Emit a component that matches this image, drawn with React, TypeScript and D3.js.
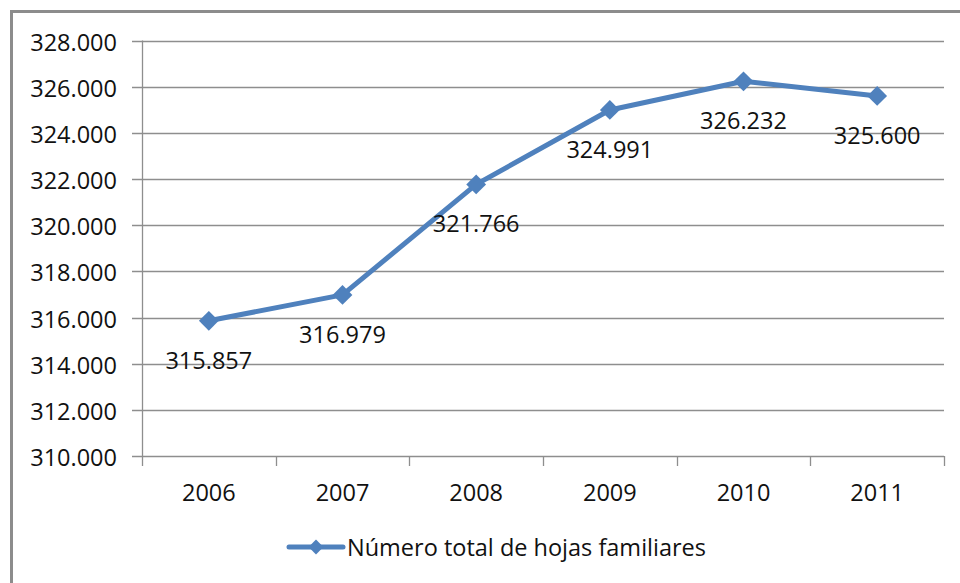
import React, { useEffect, useRef } from 'react';
import * as d3 from 'd3';

const years = ['2006', '2007', '2008', '2009', '2010', '2011'];
const values = [315857, 316979, 321766, 324991, 326232, 325600];
const seriesName = 'Número total de hojas familiares';
const yTicks = [310000, 312000, 314000, 316000, 318000, 320000, 322000, 324000, 326000, 328000];

const fmt = (v: number) => {
  const s = String(v);
  return s.slice(0, s.length - 3) + '.' + s.slice(-3);
};

export default function App() {
  const ref = useRef<SVGSVGElement | null>(null);

  useEffect(() => {
    const width = 960;
    const height = 583;
    const plot = { left: 142, right: 944, top: 40.5, bottom: 456 };
    const font = '"Open Sans", sans-serif';
    const fs = '23.5px';
    const blue = '#4F81BD';
    const grid = '#8e8e8e';

    const svg = d3.select(ref.current);
    svg.selectAll('*').remove();
    svg.attr('width', width).attr('height', height);

    svg.append('rect').attr('width', width).attr('height', height).attr('fill', 'white');

    // outer chart border (only top/left visible in the crop)
    svg.append('path')
      .attr('d', `M11.5,${height} V11.5 H${width}`)
      .attr('fill', 'none')
      .attr('stroke', '#8c8c8c')
      .attr('stroke-width', 3);

    const x = d3.scaleBand().domain(years).range([plot.left, plot.right]);
    const y = d3.scaleLinear().domain([310000, 328000]).range([plot.bottom, plot.top]);

    // gridlines + y labels
    const gy = svg.append('g');
    yTicks.forEach(t => {
      const yy = Math.round(y(t)) + 0.5;
      gy.append('line')
        .attr('x1', plot.left - 10).attr('x2', plot.right)
        .attr('y1', yy).attr('y2', yy)
        .attr('stroke', grid).attr('stroke-width', 1.3);
      gy.append('text')
        .attr('x', 117).attr('y', yy)
        .attr('text-anchor', 'end')
        .attr('dominant-baseline', 'central')
        .style('font-family', font).style('font-size', fs).style('fill', '#111')
        .text(fmt(t));
    });

    // y axis line
    svg.append('line')
      .attr('x1', plot.left + 0.5).attr('x2', plot.left + 0.5)
      .attr('y1', plot.top).attr('y2', plot.bottom + 0.5)
      .attr('stroke', grid).attr('stroke-width', 1.3);

    // x axis ticks at category boundaries
    const bounds = years.map(d => x(d) as number).concat([plot.right]);
    bounds.forEach(b => {
      svg.append('line')
        .attr('x1', Math.round(b) + 0.5).attr('x2', Math.round(b) + 0.5)
        .attr('y1', plot.bottom).attr('y2', plot.bottom + 10)
        .attr('stroke', grid).attr('stroke-width', 1.3);
    });

    years.forEach(d => {
      svg.append('text')
        .attr('x', (x(d) as number) + x.bandwidth() / 2)
        .attr('y', 492)
        .attr('text-anchor', 'middle')
        .attr('dominant-baseline', 'central')
        .style('font-family', font).style('font-size', fs).style('fill', '#111')
        .text(d);
    });

    const pts = values.map((v, i) => [(x(years[i]) as number) + x.bandwidth() / 2, y(v)] as [number, number]);

    svg.append('path')
      .attr('d', d3.line()(pts))
      .attr('fill', 'none')
      .attr('stroke', blue)
      .attr('stroke-width', 5)
      .attr('stroke-linejoin', 'round');

    const diamond = d3.symbol().type(d3.symbolDiamond2).size(250);
    pts.forEach(p => {
      svg.append('path')
        .attr('d', diamond())
        .attr('transform', `translate(${p[0]},${p[1]})`)
        .attr('fill', blue);
    });

    // data labels
    pts.forEach((p, i) => {
      svg.append('text')
        .attr('x', p[0]).attr('y', p[1] + 39)
        .attr('text-anchor', 'middle')
        .attr('dominant-baseline', 'central')
        .style('font-family', font).style('font-size', fs).style('fill', '#111')
        .text(fmt(values[i]));
    });

    // legend
    const ly = 547;
    svg.append('line')
      .attr('x1', 289).attr('x2', 343).attr('y1', ly).attr('y2', ly)
      .attr('stroke', blue).attr('stroke-width', 5).attr('stroke-linecap', 'round');
    svg.append('path')
      .attr('d', d3.symbol().type(d3.symbolDiamond2).size(140)())
      .attr('transform', `translate(316,${ly})`)
      .attr('fill', blue);
    svg.append('text')
      .attr('x', 347).attr('y', ly)
      .attr('dominant-baseline', 'central')
      .style('font-family', font).style('font-size', fs).style('fill', '#111')
      .text(seriesName);
  }, []);

  return <svg ref={ref} style={{ position: 'absolute', left: 0, top: 0, display: 'block' }} />;
}
